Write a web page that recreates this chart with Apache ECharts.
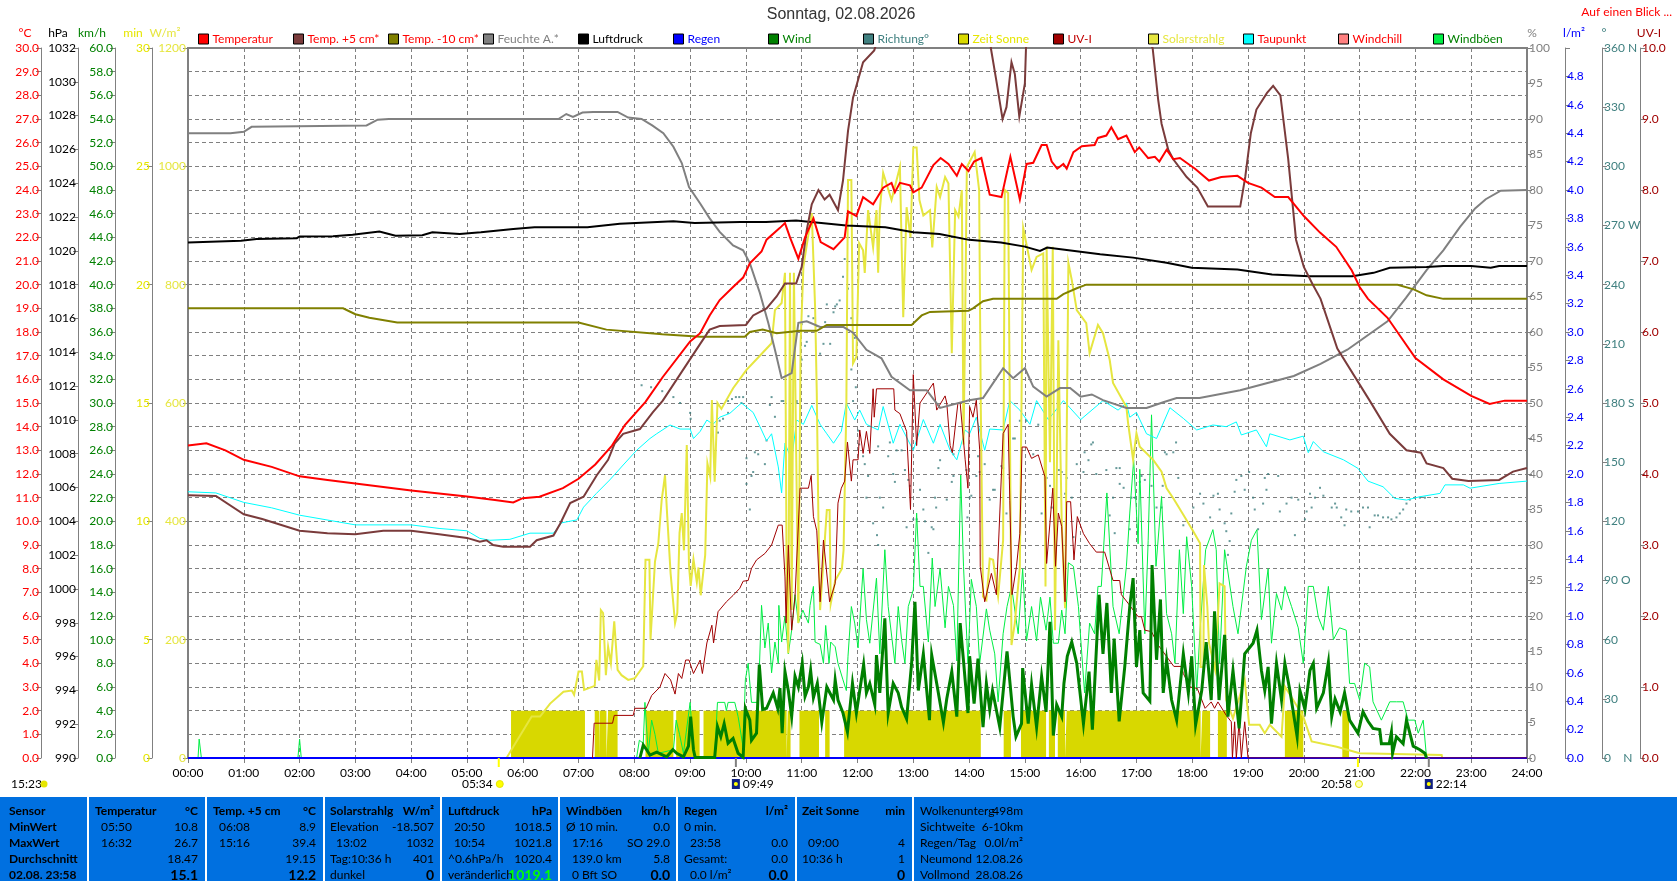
<!DOCTYPE html>
<html><head><meta charset="utf-8">
<script src="https://cdn.jsdelivr.net/npm/echarts@6/dist/echarts.min.js"></script>
<style>html,body{margin:0;padding:0;background:#fff}#c{width:1677px;height:881px}</style></head>
<body><div id="c"></div>
<script>
const FONT='Lato,"Liberation Sans"';
const tempData=[[0,13.2],[0.33,13.3],[0.67,13.0],[1,12.6],[1.5,12.3],[2,11.9],[2.5,11.75],[3,11.6],[4,11.3],[5,11.05],[5.5,10.9],[5.83,10.8],[6,10.98],[6.3,11.04],[6.72,11.4],[7,11.8],[7.3,12.4],[7.6,13.2],[7.83,14.07],[8.2,15.05],[8.51,16.1],[9,17.6],[9.18,17.95],[9.35,18.7],[9.53,19.35],[9.77,19.9],[9.95,20.3],[10.07,20.9],[10.28,21.4],[10.37,21.9],[10.61,22.4],[10.7,22.6],[10.79,22.0],[10.94,21.1],[11.06,22],[11.21,22.8],[11.34,21.8],[11.57,21.5],[11.77,22],[11.83,23.1],[11.98,22.9],[12.1,23.7],[12.28,23.4],[12.46,24.1],[12.61,24.3],[12.67,23.9],[12.76,24.3],[12.94,24.2],[13,23.9],[13.15,24.1],[13.36,25.05],[13.49,25.35],[13.63,25.1],[13.78,24.6],[13.87,25.1],[13.99,24.8],[14.09,25.2],[14.22,25.35],[14.37,23.8],[14.58,23.7],[14.74,25.4],[14.91,23.6],[15.03,25.1],[15.15,25.15],[15.3,25.9],[15.39,25.9],[15.48,25.2],[15.58,24.9],[15.69,25.1],[15.75,24.9],[15.87,25.6],[16.02,25.85],[16.25,25.9],[16.31,26.2],[16.46,26.3],[16.55,26.65],[16.67,26.15],[16.82,26.3],[16.97,25.6],[17.05,25.8],[17.21,25.35],[17.33,25.4],[17.41,25.2],[17.54,25.7],[17.66,25.3],[17.78,25.35],[17.93,25.1],[18.05,24.9],[18.3,24.4],[18.52,24.55],[18.81,24.6],[19,24.3],[19.24,24.1],[19.48,23.7],[19.72,23.7],[20,22.9],[20.29,22.2],[20.58,21.6],[20.86,20.6],[21,19.9],[21.15,19.4],[21.5,18.6],[22,16.9],[22.5,16.0],[23,15.3],[23.33,14.96],[23.6,15.1],[24,15.1]];
const temp5Data=[[0,11.1],[0.5,11.07],[1,10.3],[1.33,10.1],[2,9.6],[2.5,9.5],[3,9.45],[3.5,9.6],[4,9.6],[4.5,9.45],[5,9.3],[5.23,9.14],[5.35,9.2],[5.47,9.0],[5.65,8.93],[6.13,8.93],[6.25,9.2],[6.55,9.4],[6.67,9.9],[6.85,10.77],[7.09,11.04],[7.33,11.96],[7.53,12.6],[7.65,13.3],[7.8,13.7],[8.1,13.9],[8.33,14.6],[8.51,15.1],[9.18,17.5],[9.35,18.1],[9.53,18.25],[10,18.3],[10.13,18.7],[10.37,19.0],[10.55,19.5],[10.7,20.05],[10.9,20.05],[11,20.75],[11.09,22.3],[11.18,23.4],[11.3,24.0],[11.41,23.6],[11.5,23.8],[11.65,23.15],[11.74,24.4],[11.83,26.5],[11.92,27.9],[12.1,29.4],[12.3,29.9],[12.45,31],[13,35],[14,36],[14.3,32],[14.39,30],[14.49,28.6],[14.6,27.0],[14.67,27.5],[14.76,29.4],[14.82,28.9],[14.9,27.1],[15,28.5],[15.02,30],[15.27,39.4],[16,35],[17,31],[17.29,30],[17.39,27.8],[17.45,26.8],[17.57,25.7],[17.66,25.3],[17.9,24.55],[18.09,24.1],[18.28,23.3],[18.86,23.3],[18.95,24.55],[19.05,26.4],[19.15,27.4],[19.34,28.1],[19.45,28.4],[19.58,28.0],[19.72,25.3],[19.86,21.9],[20,20.75],[20.15,20.05],[20.3,19.4],[20.6,17.3],[21.18,15.1],[21.54,13.7],[21.84,13.0],[22.1,12.9],[22.2,12.45],[22.5,12.25],[22.66,11.8],[22.95,11.7],[23.5,11.75],[23.75,12.1],[24,12.25]];
const tempM10Data=[[0,19.0],[2.78,19.0],[3.0,18.75],[3.25,18.6],[3.75,18.4],[7,18.4],[7.5,18.1],[8.5,17.9],[9.18,17.8],[9.98,17.8],[10.07,18.0],[10.3,18.1],[10.55,17.95],[10.97,18.05],[11.27,18.05],[11.45,18.3],[12.97,18.3],[13.15,18.7],[13.3,18.85],[13.99,18.9],[14.07,19.0],[14.25,19.3],[14.43,19.4],[15.57,19.4],[15.69,19.6],[15.93,19.85],[16.1,20.0],[21.68,20.0],[21.97,19.8],[22.2,19.55],[22.5,19.4],[24,19.4]];
const humidData=[[0,88],[0.76,88],[1,88.2],[1.14,88.9],[2.8,89.05],[3.2,89.1],[3.4,89.9],[3.6,90],[6.64,90],[6.78,90.7],[6.9,90.3],[7.07,90.9],[7.26,91],[7.7,91],[7.89,90.2],[8.13,90],[8.32,89.1],[8.52,88],[8.7,86.1],[8.85,83.8],[8.98,80.4],[9.18,78.1],[9.35,76],[9.53,74.1],[9.77,72.2],[9.95,71.5],[10.07,69.7],[10.25,65.5],[10.4,61.3],[10.52,57.5],[10.64,53.5],[10.82,54.2],[10.94,61.3],[11.09,61.5],[11.33,60.7],[11.75,60.7],[11.92,59.9],[12.16,57.5],[12.43,56.3],[12.61,53.7],[12.94,51.8],[13.24,51.8],[13.48,49.3],[14,50.4],[14.25,50.7],[14.43,52.8],[14.61,54.9],[14.79,53.5],[15,54.9],[15.15,52.3],[15.39,50.9],[15.63,52.1],[15.81,52.1],[16,50.9],[16.2,51.2],[16.4,50.4],[16.82,49.3],[17.18,49.3],[17.48,50.1],[17.72,50.7],[18.13,50.7],[18.86,51.8],[19.82,53.8],[20.3,55.5],[20.78,57.5],[21.5,61.5],[21.83,64.8],[22.2,68.7],[22.5,71.5],[22.8,74.8],[23.07,77.4],[23.26,78.7],[23.53,79.9],[24,80]];
const pressData=[[0,1020.5],[0.95,1020.6],[1.23,1020.7],[1.95,1020.75],[2,1020.85],[2.6,1020.87],[2.95,1020.95],[3.43,1021.15],[3.72,1020.9],[4.2,1020.93],[4.38,1021.1],[4.87,1021.0],[5.25,1021.1],[5.83,1021.3],[6.21,1021.4],[7.16,1021.4],[7.74,1021.6],[8.7,1021.75],[9.08,1021.65],[9.9,1021.7],[10.36,1021.7],[10.9,1021.8],[11.8,1021.5],[12.5,1021.4],[13,1021.1],[13.47,1021.0],[14,1020.65],[14.57,1020.5],[15,1020.25],[15.27,1020.0],[15.4,1020.2],[15.75,1020.05],[16.35,1019.8],[16.94,1019.6],[17.54,1019.3],[17.99,1019.0],[18.81,1018.9],[19.43,1018.6],[20.1,1018.5],[20.87,1018.5],[21.25,1018.7],[21.54,1019.0],[22.2,1019.05],[22.5,1019.1],[23,1019.1],[23.35,1019.0],[23.5,1019.1],[24,1019.1]];
const rainData=[[0,0],[24,0]];
const windData=[[8.1,0],[8.13,0.1],[8.16,1.1],[8.22,0.7],[8.28,0.25],[8.4,0.5],[8.58,0.1],[8.69,0.7],[8.76,0.4],[8.88,0.1],[8.97,1],[9.01,3.5],[9.06,0.7],[9.09,0.05],[9.44,0.05],[9.49,2.65],[9.55,1.8],[9.61,2.9],[9.68,1.25],[9.77,1.65],[9.86,0.4],[9.95,0.05],[9.99,4.2],[10.07,3.2],[10.1,1.5],[10.19,2.1],[10.24,7.9],[10.3,4.1],[10.37,4.2],[10.49,5.5],[10.57,4.2],[10.61,5.9],[10.65,2.1],[10.7,7.3],[10.76,5.7],[10.82,3.5],[10.88,6.9],[10.94,6],[11.01,8],[11.06,5.2],[11.12,6],[11.16,7.4],[11.21,5.1],[11.28,6.3],[11.36,3],[11.45,6],[11.57,4.9],[11.6,6.6],[11.65,4.9],[11.74,3.8],[11.82,2.2],[11.91,6.3],[11.98,3.8],[12.11,7.9],[12.16,5.5],[12.22,6.3],[12.31,4.5],[12.34,8.7],[12.4,5.5],[12.49,11.8],[12.55,3.8],[12.64,6.3],[12.73,5.5],[12.79,4.3],[12.88,3.3],[12.97,8],[13.03,13.2],[13.09,5.7],[13.18,8.8],[13.29,3.2],[13.33,8.7],[13.42,6.3],[13.54,3],[13.6,5],[13.69,7.3],[13.78,3.5],[13.84,11.4],[13.9,8.2],[13.98,3.8],[14.01,8.6],[14.09,4.6],[14.16,8.4],[14.25,2.6],[14.31,6.3],[14.37,4.1],[14.42,5.7],[14.55,2.6],[14.68,9],[14.79,3.5],[14.84,1.8],[14.94,2.9],[14.96,7.6],[15.06,2.9],[15.12,6.2],[15.21,2.6],[15.3,6.9],[15.38,3.9],[15.45,11.5],[15.51,1.9],[15.57,4.5],[15.66,3.5],[15.7,6.3],[15.76,8.6],[15.84,9.8],[15.93,8],[16.05,2.9],[16.15,7.3],[16.21,2.4],[16.33,13.8],[16.4,8.8],[16.47,13.1],[16.55,5.5],[16.6,10.1],[16.69,3.1],[16.79,7.7],[16.88,12.8],[16.94,15.2],[17,7.7],[17.06,10.8],[17.12,5.5],[17.24,4.8],[17.28,16.3],[17.36,8.3],[17.43,13.4],[17.48,5.5],[17.54,8.3],[17.63,4.9],[17.72,3.2],[17.84,8.8],[17.93,5.5],[17.99,8.6],[18.06,2.8],[18.17,5.7],[18.25,9.8],[18.34,4.9],[18.4,12.4],[18.48,4.9],[18.58,10.4],[18.64,3.5],[18.73,7.4],[18.84,2.5],[18.94,8.8],[19.09,9.7],[19.16,10.8],[19.24,7.4],[19.3,5.7],[19.36,7.7],[19.42,2.9],[19.51,8],[19.6,4.9],[19.66,8],[19.75,5.7],[19.88,1.8],[19.93,5.7],[20.02,4.1],[20.11,7.4],[20.17,8],[20.23,4.2],[20.35,5.5],[20.44,8.1],[20.5,3.5],[20.56,5],[20.65,3.9],[20.73,5.5],[20.82,3.2],[20.97,2.1],[21.06,3.9],[21.15,3.1],[21.24,2.5],[21.36,2.4],[21.39,1.2],[21.53,1.2],[21.57,2.2],[21.59,0.4],[21.66,1.8],[21.78,1.2],[21.84,3.2],[21.96,1],[22.08,0.7],[22.17,0.4],[22.2,0]];
const gustData=[[0,0],[0.18,0],[0.2,1.6],[0.24,0],[1.97,0],[2,1.6],[2.03,0],[8.04,0],[8.09,1.5],[8.16,1.25],[8.19,4.7],[8.25,0.4],[8.31,3.2],[8.37,2],[8.43,0.4],[8.7,0.7],[8.75,3.2],[8.81,2],[8.88,0.4],[9,4.7],[9.06,0.4],[9.09,0],[9.44,0.1],[9.49,4.7],[9.62,4.7],[9.65,4],[9.68,4.7],[9.8,4.7],[9.86,3.5],[9.95,0.9],[9.99,6.6],[10.04,8],[10.1,4.7],[10.22,4.7],[10.28,12.9],[10.34,9.3],[10.4,11.4],[10.46,7.2],[10.52,9.8],[10.58,8],[10.59,12.9],[10.64,9.8],[10.7,12],[10.76,8.8],[10.82,10.8],[10.88,13.8],[10.94,11.4],[11.02,12.5],[11.12,11.4],[11.15,12.9],[11.21,14.5],[11.24,9.8],[11.33,9.6],[11.39,8],[11.43,11.2],[11.49,8],[11.52,9.8],[11.6,9.4],[11.65,8],[11.74,6.6],[11.8,5.7],[11.83,8.6],[11.89,12.8],[11.95,11.4],[12.01,9.3],[12.1,16],[12.16,11.7],[12.22,9.7],[12.34,15.2],[12.4,8.8],[12.49,17.6],[12.55,12.8],[12.67,8],[12.73,12.8],[12.79,10],[12.85,8],[12.91,12.8],[13,14.2],[13.06,20.7],[13.12,14.5],[13.18,14.5],[13.27,9.8],[13.34,16.9],[13.39,12.8],[13.48,16],[13.57,11],[13.63,14.5],[13.72,12.9],[13.78,8.2],[13.85,23.9],[13.9,16.2],[13.98,8],[14.04,15.1],[14.13,12.8],[14.19,8],[14.31,12.6],[14.37,10.8],[14.46,8.8],[14.52,4.75],[14.61,10.5],[14.68,12.8],[14.76,14.5],[14.88,10.5],[14.96,16],[15.03,9.9],[15.12,12.8],[15.21,9.9],[15.28,13.6],[15.38,10.8],[15.45,13.6],[15.51,9.7],[15.6,9.7],[15.66,12.5],[15.72,10.5],[15.78,16.5],[15.87,16.2],[15.96,12.8],[16.07,5.5],[16.16,11.4],[16.25,10.5],[16.31,14.5],[16.37,14.5],[16.47,22.4],[16.58,12.8],[16.69,10.5],[16.82,16.2],[16.88,20.7],[16.95,25.2],[17.03,18.1],[17.06,24.4],[17.15,10.5],[17.21,18.4],[17.27,29],[17.35,16.2],[17.45,22.1],[17.54,12.2],[17.63,10.5],[17.69,8],[17.77,17.6],[17.84,12.2],[17.9,18.7],[17.99,14.5],[18.08,5.7],[18.14,10.8],[18.24,17.6],[18.37,19.3],[18.43,17.6],[18.49,8],[18.58,17.6],[18.73,12.8],[18.82,10.5],[18.97,16.2],[19.06,18.4],[19.16,19.3],[19.24,11.7],[19.36,16],[19.42,9.7],[19.51,13.9],[19.6,12.5],[19.66,14.5],[19.78,12.8],[19.9,11],[19.99,8],[20.08,14.5],[20.17,14.5],[20.26,11.9],[20.35,10.8],[20.44,14.5],[20.53,10],[20.64,11],[20.76,10.8],[20.82,6.3],[20.91,6.3],[21,4.9],[21.09,8],[21.18,7.7],[21.24,4.75],[21.39,3.2],[21.54,4.75],[21.66,4.75],[21.78,4.75],[21.87,3.2],[21.99,3.2],[22.05,2.1],[22.14,3.2],[22.2,0]];
const dirData=[[8.13,189],[8.3,188],[8.5,186],[8.7,183],[8.82,180],[11.77,253],[11.74,244],[11.83,238],[11.68,232],[11.63,230],[11.6,229],[11.45,230],[11.57,226],[11.12,224],[11.21,223],[11.27,219],[11.42,221],[11,220],[11.09,211],[11.06,209],[11.39,210],[11.51,210],[11.33,205],[11,202],[11.89,223],[11.95,213],[11.89,197],[11.97,188],[10.46,183],[10.67,181],[10.79,181],[10.91,181],[9.68,181],[9.75,182],[9.82,183],[9.88,183],[9.95,183],[9,175],[9.01,172],[9.5,165],[9.53,171],[9.59,172],[9.68,175],[9.92,180],[10.01,152],[10.07,126],[10.01,139],[10.1,143],[10.13,145],[10.16,155],[10.22,154],[10.34,149],[10.37,161],[10.43,179],[10.52,173],[10.64,181],[10.79,180],[10.91,180],[11.92,181],[12.01,166],[12.03,159],[12.1,153],[12.13,149],[12.19,143],[12.37,158],[12.58,160],[12.7,156],[12.79,156],[12.55,153],[12.64,144],[12.67,140],[12.85,146],[12.91,141],[12.94,138],[12.16,132],[12.4,132],[12.46,127],[12.28,119],[12.35,113],[12.37,108],[12.88,117],[13,121],[13.06,121],[13.12,136],[13.18,126],[13.21,120],[13.33,117],[13.39,132],[13.41,127],[13.36,116],[13.27,104],[13.72,154],[13.72,143],[13.6,131],[13.45,147],[13.48,151],[13.69,140],[13.97,122],[14.04,133],[14.13,143],[14.19,145],[13.95,146],[14.91,171],[14.82,162],[14.79,162],[14.61,147],[14.58,148],[14.37,131],[14.43,136],[14.28,149],[14.16,153],[14.01,132],[14.73,142],[14.67,124],[14.46,136],[15.03,171],[15.24,169],[15.15,154],[15.39,142],[15.3,124],[15.45,138],[15.48,127],[15.54,111],[15.61,146],[15.66,145],[15.75,142],[15.72,134],[15.84,132],[15.87,112],[15.93,149],[16.05,145],[16.14,151],[16.07,155],[16.22,160],[16.19,159],[16.28,144],[16.46,146],[16.64,147],[16.7,147],[16.58,132],[16.7,139],[16.77,137],[16.52,123],[16.61,114],[16.88,116],[16.91,132],[16.97,132],[17.06,140],[17.09,143],[17.15,141],[17.27,138],[17.47,138],[17.54,154],[17.51,155],[17.66,155],[17.71,160],[17.75,142],[17.45,127],[17.36,127],[17.84,118],[18.02,127],[18.14,134],[18.2,129],[18.32,122],[18.38,133],[18.46,134],[18.49,126],[18.58,119],[18.61,115],[18.67,110],[18.64,103],[18.7,124],[18.79,141],[18.88,143],[18.76,135],[18.94,136],[19.02,145],[19.09,132],[19.3,142],[19.36,144],[19.54,143],[19.33,136],[19.27,129],[19.12,126],[19.18,116],[19.57,125],[19.69,129],[19.78,132],[19.84,113],[19.9,131],[20.05,125],[20.11,134],[20.14,127],[20.02,121],[20.29,137],[20.2,132],[20.35,133],[20.56,129],[20.5,127],[20.59,127],[20.76,126],[20.85,125],[20.97,125],[21.06,127],[21.15,127],[20.67,122],[20.73,118],[21.18,117],[21.27,123],[21.33,123],[21.42,122],[21.51,122],[21.57,121],[21.66,122],[21.72,124],[21.78,126],[21.84,129],[21.9,131],[21.99,132],[22.08,132],[22.17,132]];
const sunIntervals=[[5.79,7.115],[7.29,7.37],[7.38,7.5],[7.53,7.7],[8.2,8.7],[8.75,9.17],[9.24,10.73],[10.75,10.8],[10.96,11.31],[11.42,11.5],[11.76,14.21],[14.62,14.75],[14.93,15.38],[15.43,15.54],[15.59,15.72],[15.75,18.15],[18.18,18.32],[18.46,18.62],[19.66,19.99],[20.69,20.81]];
const sunLevel=2;
const uvData=[[7.25,0],[7.28,0.49],[7.61,0.49],[7.64,0.6],[7.98,0.6],[8.01,0.7],[8.21,0.7],[8.31,0.88],[8.46,1],[8.55,1.19],[8.65,1.1],[8.73,0.9],[8.79,1.19],[8.85,1.12],[8.92,1.38],[8.98,1.38],[9.06,1.19],[9.18,1.38],[9.22,1.19],[9.3,1.62],[9.39,1.87],[9.42,1.62],[9.5,2.06],[9.65,2.2],[9.77,2.29],[9.89,2.39],[9.95,2.49],[10.04,2.5],[10.1,2.67],[10.19,2.79],[10.34,2.88],[10.46,3],[10.58,3.28],[10.65,3.28],[10.7,2.55],[10.72,1.9],[10.76,3],[10.82,1.8],[10.88,2.27],[10.97,3.8],[11.12,3.8],[11.17,3.98],[11.21,3.4],[11.27,3.2],[11.33,2.2],[11.39,3.07],[11.5,2.2],[11.6,2.46],[11.65,3.59],[11.71,3.8],[11.77,3.9],[11.82,4.45],[11.89,3.9],[11.92,4.2],[12.01,4.2],[12.04,4.62],[12.1,4.29],[12.16,4.6],[12.22,4.29],[12.28,5.2],[12.3,4.8],[12.34,5.2],[12.65,5.2],[12.67,4.9],[12.76,4.85],[12.88,4.6],[12.95,3.5],[13,5.4],[13.06,4.4],[13.12,5.0],[13.36,5.28],[13.42,4.9],[13.57,5.1],[13.6,5.0],[13.66,4.4],[13.7,4.3],[13.8,5.0],[13.84,5.0],[13.93,4.2],[13.98,3.8],[14.01,4.95],[14.07,4.8],[14.13,5.04],[14.19,4.34],[14.2,2.7],[14.28,2.2],[14.4,2.6],[14.49,2.3],[14.61,4.57],[14.7,4.7],[14.73,3.63],[14.77,2.3],[14.85,2.7],[14.91,3.16],[14.95,4.38],[15.03,4.38],[15.12,4.22],[15.24,4.27],[15.36,3.96],[15.39,2.74],[15.5,3.8],[15.55,2.7],[15.6,3.45],[15.66,3.26],[15.72,2.2],[15.75,3.61],[15.82,3.61],[15.88,2.79],[15.94,3.4],[16.05,3.16],[16.16,3.02],[16.28,2.9],[16.43,2.9],[16.58,2.5],[16.7,2.5],[16.73,2.3],[16.85,2.18],[17.03,1.99],[17.09,1.99],[17.15,1.8],[17.27,1.78],[17.39,1.59],[17.54,1.43],[17.67,1.29],[17.81,1.29],[17.84,1.19],[17.96,1],[18.09,0.98],[18.23,0.7],[18.34,0.79],[18.4,0.7],[18.46,0.79],[18.61,0.6],[18.7,0.51],[18.72,0],[18.76,0.51],[18.79,0],[18.84,0.51],[18.88,0],[18.94,0.51],[19,0],[24,0]];
const solarData=[[5.71,0],[5.83,19],[6.01,47],[6.16,70],[6.31,70],[6.49,92],[6.73,112],[6.88,114],[6.92,107],[7,146],[7.06,146],[7.1,115],[7.29,122],[7.32,166],[7.37,131],[7.4,250],[7.44,245],[7.49,140],[7.53,188],[7.58,160],[7.64,231],[7.7,149],[7.77,140],[7.89,132],[8.01,135],[8.16,155],[8.2,335],[8.27,335],[8.29,200],[8.37,332],[8.43,363],[8.49,436],[8.55,478],[8.59,408],[8.65,312],[8.73,228],[8.77,245],[8.81,380],[8.85,414],[8.89,351],[8.94,529],[8.98,325],[9.01,291],[9.06,336],[9.12,297],[9.15,322],[9.19,275],[9.27,343],[9.31,498],[9.36,475],[9.39,605],[9.44,467],[9.49,600],[9.56,590],[9.77,625],[10.01,656],[10.22,677],[10.46,701],[10.52,757],[10.64,769],[10.7,820],[10.73,300],[10.76,177],[10.79,820],[10.82,250],[10.86,820],[10.94,228],[10.98,700],[11.03,830],[11.18,921],[11.24,762],[11.27,617],[11.3,400],[11.33,250],[11.45,419],[11.5,419],[11.52,261],[11.6,300],[11.72,320],[11.75,351],[11.8,593],[11.83,977],[11.89,977],[11.92,667],[11.98,678],[12.03,870],[12.1,858],[12.13,820],[12.19,926],[12.28,863],[12.34,926],[12.37,820],[12.4,926],[12.46,989],[12.61,943],[12.76,999],[12.82,745],[12.88,931],[12.95,880],[13,1032],[13.06,1032],[13.11,943],[13.18,917],[13.3,926],[13.34,863],[13.42,965],[13.48,948],[13.57,982],[13.63,971],[13.69,684],[13.75,926],[13.81,915],[13.87,960],[13.9,530],[13.93,740],[13.96,999],[14.1,1024],[14.18,960],[14.21,593],[14.25,273],[14.31,267],[14.37,337],[14.43,335],[14.52,273],[14.61,368],[14.64,960],[14.7,955],[14.73,588],[14.76,191],[14.82,228],[14.91,323],[14.94,605],[14.97,896],[15.12,825],[15.21,847],[15.33,853],[15.37,290],[15.39,864],[15.45,500],[15.5,864],[15.54,216],[15.6,706],[15.66,400],[15.72,253],[15.78,837],[15.84,808],[15.93,757],[16.1,735],[16.16,684],[16.31,732],[16.4,718],[16.52,673],[16.58,634],[16.82,593],[16.85,566],[16.94,504],[17,549],[17.06,526],[17.3,504],[17.45,484],[17.54,456],[17.66,439],[17.84,411],[18.02,383],[18.14,363],[18.15,154],[18.2,154],[18.21,326],[18.27,256],[18.3,194],[18.41,149],[18.49,295],[18.58,290],[18.61,98],[18.73,67],[18.94,132],[19.02,56],[19.21,56],[19.3,42],[19.39,56],[19.6,36],[19.66,121],[19.81,98],[19.99,70],[20.14,28],[20.59,19],[21,8],[22.47,5],[22.48,0]];
const dewData=[[0,11.25],[0.5,11.2],[1,10.8],[1.5,10.57],[2,10.26],[3,9.85],[4,9.85],[4.5,9.7],[5,9.6],[5.23,9.28],[5.41,9.2],[5.77,9.24],[6.13,9.5],[6.55,9.5],[6.7,9.94],[6.97,10.06],[7.09,10.6],[7.32,11.18],[7.56,11.75],[7.8,12.38],[8.04,13],[8.28,13.5],[8.4,13.7],[8.64,14.07],[8.82,13.9],[9,13.9],[9.06,13.5],[9.18,13.8],[9.3,14.28],[9.41,14.1],[9.53,14.4],[9.71,14.56],[9.92,15],[10.13,14.6],[10.28,13.86],[10.37,13.4],[10.46,13.7],[10.58,12.3],[10.64,11.2],[10.7,13.3],[10.82,12.6],[10.91,14.28],[11.03,14.1],[11.18,14.9],[11.33,14.1],[11.45,13.7],[11.57,13.3],[11.71,13.8],[11.8,15],[11.95,14.28],[12.04,14.7],[12.16,14.1],[12.37,13.86],[12.46,14.85],[12.64,13.3],[12.76,14.1],[13,13],[13.18,14.3],[13.36,13.3],[13.48,14.1],[13.66,13],[13.78,12.6],[13.93,13.86],[14.01,13.7],[14.13,14.4],[14.28,13],[14.37,13.9],[14.61,13.86],[14.73,15.1],[14.91,14.7],[15.09,14.1],[15.21,15.1],[15.42,14.3],[15.69,15.1],[16,14.3],[16.4,15.1],[16.67,14.7],[16.82,15],[16.88,14.4],[17,14.6],[17.18,13.7],[17.36,13.5],[17.6,14.8],[17.84,14.35],[18.08,13.86],[18.37,14.07],[18.61,14],[18.79,14.2],[18.88,13.65],[19.15,13.86],[19.33,13.15],[19.39,13.7],[19.75,13.44],[19.99,13.6],[20.08,12.9],[20.17,13.37],[20.35,12.94],[20.71,12.6],[20.97,12.24],[21.15,11.7],[21.42,11.46],[21.63,10.97],[21.84,10.9],[22.08,11.04],[22.44,11.18],[22.53,11.54],[22.86,11.54],[22.98,11.4],[23.5,11.6],[24,11.7]];

const legendNames=['Temperatur','Temp. +5 cm*','Temp. -10 cm*','Feuchte A.*','Luftdruck','Regen','Wind','Richtung°','Zeit Sonne','UV-I','Solarstrahlg','Taupunkt','Windchill','Windböen'];
const legendBox=['#ff0000','#7a3b3b','#808000','#808080','#000000','#0000ff','#008000','#408080','#d8d800','#a00000','#e6e640','#00ffff','#ff8080','#00ee44'];
const legendText=['#ff0000','#ff0000','#ff0000','#808080','#000000','#0000ff','#008000','#408080','#e6e600','#c00000','#e6e640','#ff0000','#ff0000','#008000'];
const legendLeft=[198,293,388,483,578,673,768,863,958,1053,1148,1243,1338,1433];
const dirLabels={360:'360 N',270:'270 W',180:'180 S',90:'90 O',0:'0    N'};
const unitLabels=[['°C',25,'#ff0000'],['hPa',58,'#000'],['km/h',92,'#008000'],['min',133,'#e6e600'],['W/m²',165,'#e6e640'],['%',1532,'#808080'],['l/m²',1574,'#0000ff'],['°',1604,'#408080'],['UV-I',1649,'#a00000']];
const sunDates=[['05:34',5.57,'sun','#ffff00','left'],['09:49',9.82,'moon','#808080','right'],['20:58',20.97,'sunOff','#ffff00','left'],['22:14',22.24,'moon','#808080','right']];

const tableDividers=[87,205,323,440,558,676,795,912];
const tableRows=[811,827,843,859,875];
const tableCols=[
 {l:9,r:null,cells:[['Sensor',null,1],['MinWert',null,1],['MaxWert',null,1],['Durchschnitt',null,1],['02.08. 23:58',null,1]]},
 {l:95,r:198,cells:[['Temperatur','°C',1],['  05:50','10.8'],['  16:32','26.7'],['','18.47'],['','15.1',2]]},
 {l:213,r:316,cells:[['Temp. +5 cm','°C',1],['  06:08','8.9'],['  15:16','39.4'],['','19.15'],['','12.2',2]]},
 {l:330,r:434,cells:[['Solarstrahlg','W/m²',1],['Elevation','-18.507'],['  13:02','1032'],['Tag:10:36 h','401'],['dunkel','0',2]]},
 {l:448,r:552,cells:[['Luftdruck','hPa',1],['  20:50','1018.5'],['  10:54','1021.8'],['^0.6hPa/h','1020.4'],['veränderlich','1019.1',3]]},
 {l:566,r:670,cells:[['Windböen','km/h',1],['Ø 10 min.','0.0'],['  17:16','SO 29.0'],['  139.0 km','5.8'],['  0 Bft SO','0.0',2]]},
 {l:684,r:788,cells:[['Regen','l/m²',1],['0 min.',''],['  23:58','0.0'],['Gesamt:','0.0'],['  0.0 l/m²','0.0',2]]},
 {l:802,r:905,cells:[['Zeit Sonne','min',1],['',''],['  09:00','4'],['10:36 h','1'],['','0',2]]},
 {l:920,r:1023,cells:[['Wolkenunterg','498m'],['Sichtweite','6-10km'],['Regen/Tag','0.0l/m²'],['Neumond','12.08.26'],['Vollmond','28.08.26']]}
];

function valueAxis(o){return {type:'value',position:o.pos,offset:o.offset,min:o.min,max:o.max,interval:o.interval,
  axisLine:{show:true,onZero:false,lineStyle:{color:'#808080',width:1}},
  axisTick:{show:true,length:5,lineStyle:{color:'#808080'}},
  axisLabel:{show:true,color:o.color,fontFamily:FONT,fontSize:12,margin:2,formatter:o.fmt,showMinLabel:true,showMaxLabel:true},
  splitLine:{show:!!o.split,lineStyle:{color:'#808080',type:[4,3],width:1}}};}
const yAxes=[
 valueAxis({pos:'left',offset:147,min:0,max:30,interval:1,color:'#ff0000',fmt:v=>v.toFixed(1),split:true}),
 valueAxis({pos:'left',offset:110,min:990,max:1032,interval:2,color:'#000',fmt:v=>String(v)}),
 valueAxis({pos:'left',offset:73,min:0,max:60,interval:2,color:'#008000',fmt:v=>v.toFixed(1)}),
 valueAxis({pos:'left',offset:36,min:0,max:30,interval:5,color:'#e6e600',fmt:v=>String(v)}),
 valueAxis({pos:'left',offset:0,min:0,max:1200,interval:200,color:'#e6e640',fmt:v=>String(v)}),
 valueAxis({pos:'right',offset:0,min:0,max:100,interval:5,color:'#808080',fmt:v=>String(v)}),
 valueAxis({pos:'right',offset:38,min:0,max:5,interval:0.2,color:'#0000ff',fmt:v=>v>=5?'':v.toFixed(1)}),
 valueAxis({pos:'right',offset:75,min:0,max:360,interval:30,color:'#408080',fmt:v=>dirLabels[v]||String(v)}),
 valueAxis({pos:'right',offset:113,min:0,max:10,interval:1,color:'#a00000',fmt:v=>v.toFixed(1)})
];
function line(name,data,axis,color,width,extra){return Object.assign({name,type:'line',data,yAxisIndex:axis,showSymbol:false,symbol:'none',
  lineStyle:{color,width,join:'miter'},itemStyle:{color},clip:true,animation:false,silent:true},extra||{});}
const sunData=[];sunIntervals.forEach(([a,b])=>{sunData.push([a,0],[a,sunLevel],[b,sunLevel],[b,0]);});
const series=[
 line('Zeit Sonne',sunData,3,'#d8d800',0,{areaStyle:{color:'#d8d800',opacity:1}}),
 line('Windböen',gustData,2,'#00ee44',1),
 line('Taupunkt',dewData,0,'#00ffff',1),
 {name:'Richtung°',type:'scatter',data:dirData,yAxisIndex:7,symbol:'rect',symbolSize:2,itemStyle:{color:'#408080'},animation:false,silent:true},
 line('Solarstrahlg',solarData,4,'#e6e640',2),
 line('Regen',rainData,6,'#0000ff',2),
 line('UV-I',uvData,8,'#a00000',1),
 line('Windchill',[],0,'#ff8080',1),
 line('Wind',windData,2,'#008000',3),
 line('Feuchte A.*',humidData,5,'#808080',2),
 line('Luftdruck',pressData,1,'#000000',2),
 line('Temp. -10 cm*',tempM10Data,0,'#808000',2),
 line('Temp. +5 cm*',temp5Data,0,'#7a3b3b',2),
 line('Temperatur',tempData,0,'#ff0000',2)
];
const legends=legendNames.map((n,i)=>({show:true,data:[n],left:legendLeft[i],top:33,itemWidth:10,itemHeight:10,itemGap:0,padding:0,selectedMode:false,icon:'rect',
  itemStyle:{color:legendBox[i],borderColor:'#000',borderWidth:1,opacity:1},lineStyle:{opacity:0},
  textStyle:{color:legendText[i],fontFamily:FONT,fontSize:12,padding:[0,0,0,-1]}}));

function txt(x,y,text,fill,opt){opt=opt||{};return {type:'text',silent:true,z:50,style:{x,y,text,fill,font:(opt.bold?'bold ':'')+(opt.size||12)+'px '+(opt.family||FONT),align:opt.align||'left',verticalAlign:'middle'}};}
const staticGraphics=[];
staticGraphics.push(txt(841,15,'Sonntag, 02.08.2026','#333',{size:16,align:'center',family:'"Liberation Sans"'}));
staticGraphics.push(txt(1672,12,'Auf einen Blick ...','#ff0000',{align:'right'}));
unitLabels.forEach(([t,x,c])=>staticGraphics.push(txt(x,33,t,c,{align:'center'})));
staticGraphics.push({type:'rect',silent:true,z:40,shape:{x:0,y:797,width:1677,height:84},style:{fill:'#0070e0'}});
tableDividers.forEach(x=>staticGraphics.push({type:'rect',silent:true,z:41,shape:{x:x,y:797,width:2,height:84},style:{fill:'#fff'}}));
tableCols.forEach(c=>c.cells.forEach((cell,i)=>{
  const y=tableRows[i];const s=cell[2]||0;
  if(cell[0]){const lb=cell[0].startsWith('  ');staticGraphics.push(txt(c.l+(lb?6:0),y,cell[0].trim(),'#000',{bold:s===1}));}
  if(cell[1]&&c.r){staticGraphics.push(txt(c.r,y,cell[1],s===3?'#00ff00':'#000',{bold:s>=1,align:'right',size:s>=2?14:12}));}
}));
staticGraphics.push(txt(11,784,'15:23','#000'));
staticGraphics.push({type:'circle',silent:true,z:50,shape:{cx:44,cy:784,r:3.5},style:{fill:'#e6e600'}});

const chart=echarts.init(document.getElementById('c'),null,{renderer:'canvas'});
const base={animation:false,backgroundColor:'#fff',
 grid:{left:188,right:150,top:48,bottom:123,containLabel:false,show:true,borderColor:'#808080',borderWidth:2,backgroundColor:'transparent'},
 xAxis:{type:'value',min:0,max:24,interval:1,position:'bottom',
   axisLine:{show:true,onZero:false,lineStyle:{color:'#808080',width:2}},
   axisTick:{show:true,length:5,lineStyle:{color:'#808080'}},
   axisLabel:{color:'#000',fontFamily:FONT,fontSize:12,margin:9,showMinLabel:true,showMaxLabel:true,formatter:v=>String(v).padStart(2,'0')+':00'},
   splitLine:{show:true,lineStyle:{color:'#808080',type:[4,3],width:1}}},
 yAxis:yAxes,legend:legends,series,graphic:{elements:staticGraphics}};
chart.setOption(base);
const extras=[];
sunDates.forEach(([label,h,kind,col,side])=>{
  const x=chart.convertToPixel({xAxisIndex:0},h);
  extras.push({type:'rect',silent:true,z:50,shape:{x:x-1,y:758,width:2,height:9},style:{fill:col}});
  if(side==='left'){
    extras.push(txt(x-6,784,label,'#000',{align:'right'}));
    extras.push({type:'circle',silent:true,z:50,shape:{cx:x+1,cy:784,r:3.5},style:{fill:kind==='sun'?'#ffff00':'#ffffb0',stroke:'#e6e600'}});
  }else{
    extras.push({type:'rect',silent:true,z:50,shape:{x:x-4,y:779,width:8,height:10},style:{fill:'#102080'}});
    extras.push({type:'circle',silent:true,z:51,shape:{cx:x,cy:784,r:2},style:{fill:'#ffff00'}});
    extras.push(txt(x+7,784,label,'#000'));
  }
});
chart.setOption({graphic:{elements:staticGraphics.concat(extras)}});
</script></body></html>
